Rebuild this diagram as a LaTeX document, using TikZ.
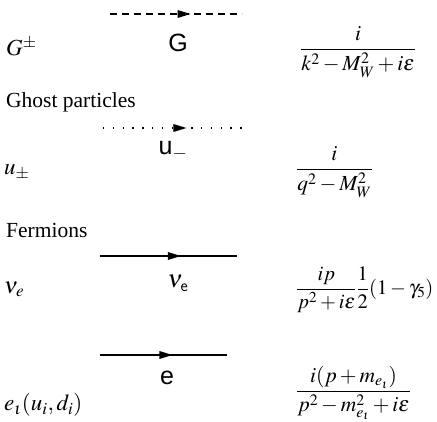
\documentclass[tikz,border=0pt]{standalone}
\usepackage{amsmath}
\usepackage{mathptmx}
\usepackage{fontspec}
\setmainfont{Liberation Serif}
\setsansfont{Liberation Sans}
\usetikzlibrary{calc}

\begin{document}
\begin{tikzpicture}[x=1pt, y=1pt,
  propline/.style={line width=1.1pt},
  scalarline/.style={propline, dash pattern=on 7pt off 5pt},
  ghostline/.style={propline, line width=1.3pt, dash pattern=on 1.3pt off 8.5pt},
  heading/.style={anchor=west, inner sep=0pt, font=\fontsize{21.5}{25}\selectfont},
  field/.style={anchor=west, inner sep=0pt, font=\fontsize{23}{27}\selectfont},
  plabel/.style={inner sep=0pt, font=\fontsize{25}{28}\selectfont\sffamily},
  formula/.style={anchor=west, inner sep=0pt, font=\fontsize{21.5}{25}\selectfont}]
\useasboundingbox (0,0) rectangle (437,-422);
% arrow head on a propagator: tip point
\newcommand{\headat}[1]{\fill (#1) -- ++(-13,4) -- ++(0,-8) -- cycle;}

% scalar G
\coordinate (Ga) at (110,-14);
\coordinate (Gb) at (242,-14);
\draw[scalarline] (Ga) -- (Gb);
\coordinate (Gt) at ($(Ga)!0.61!(Gb)$);
\headat{Gt}
\node[plabel] (Glab) at (178,-43) {G};
\node[field] (Gfield) at (6,-47) {$G^{\pm}$};
\node[formula] (Gprop) at (300,-52) {$\displaystyle\frac{i}{k^2-M_W^2+i\varepsilon}$};

% ghosts
\node[heading] (ghosts) at (6,-102) {Ghost particles};
\coordinate (ua) at (103,-128);
\coordinate (ub) at (242,-128);
\draw[ghostline] (ua) -- (ub);
\coordinate (ut) at ($(ua)!0.6!(ub)$);
\headat{ut}
\node[plabel] (ulab) at (173,-151) {u$_{-}$};
\node[field] (ufield) at (4,-172) {$u_{\pm}$};
\node[formula] (uprop) at (296,-172) {$\displaystyle\frac{i}{q^2-M_W^2}$};

% fermions
\node[heading] (fermions) at (6,-230) {Fermions};
\coordinate (na) at (100,-256);
\coordinate (nb) at (237,-256);
\draw[propline] (na) -- (nb);
\coordinate (nt) at ($(na)!0.59!(nb)$);
\headat{nt}
\node[plabel] (nlab) at (178,-283) {$\nu_{\mathsf{e}}$};
\node[field] (nfield) at (4,-289) {$\nu_e$};
\node[formula, font=\fontsize{20.5}{24}\selectfont] (nprop) at (296,-290) {$\displaystyle\frac{ip}{p^2+i\varepsilon}\frac{1}{2}(1-\gamma_5)$};

\coordinate (ea) at (100,-355);
\coordinate (eb) at (227,-355);
\draw[propline] (ea) -- (eb);
\coordinate (et) at ($(ea)!0.57!(eb)$);
\headat{et}
\node[plabel] (elab) at (167,-378) {e};
\node[field] (efield) at (4,-405) {$e_\iota(u_i,d_i)$};
\node[formula] (eprop) at (296,-393) {$\displaystyle\frac{i(p+m_{e_\iota})}{p^2-m_{e_\iota}^2+i\varepsilon}$};
\end{tikzpicture}
\end{document}
